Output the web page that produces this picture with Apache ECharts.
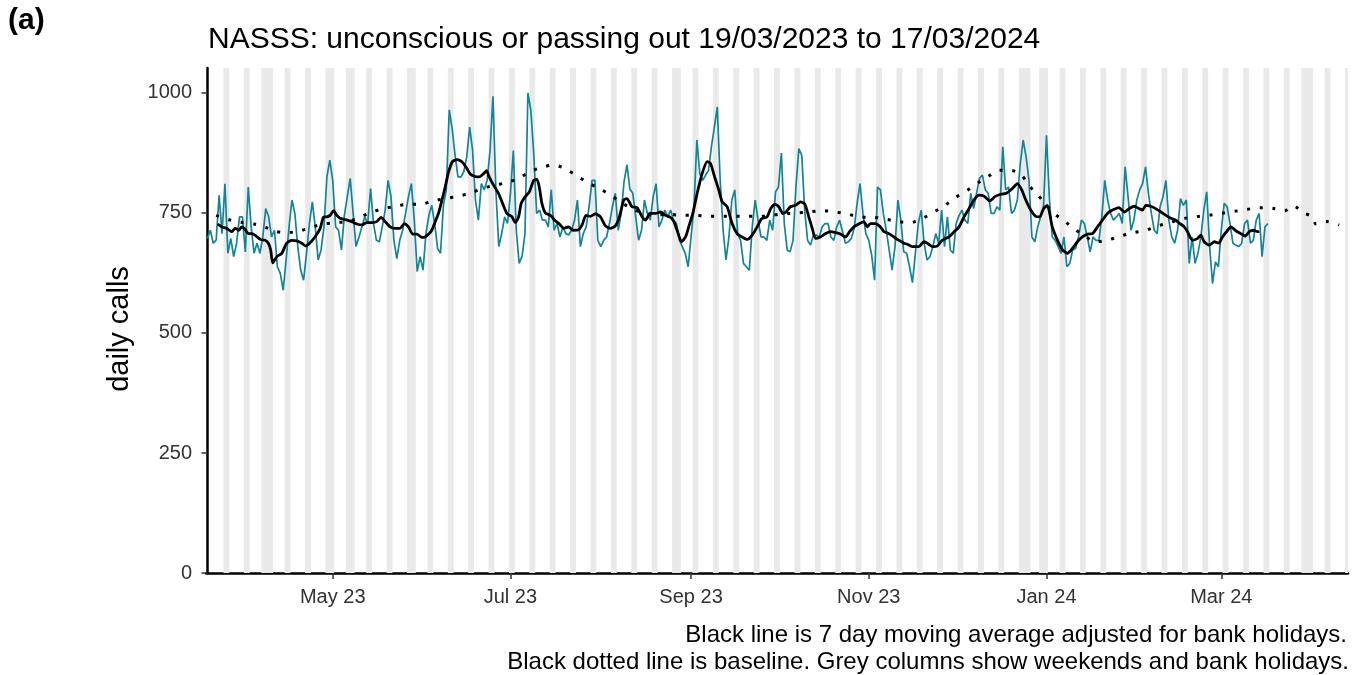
<!DOCTYPE html>
<html>
<head>
<meta charset="utf-8">
<script src="https://cdn.jsdelivr.net/npm/echarts@6/dist/echarts.min.js"></script>
<style>
  html, body { margin: 0; padding: 0; background: #fff; }
  #chart { width: 1365px; height: 675px; }
</style>
</head>
<body>
<div id="chart"></div>
<script>
// day 0 = 19/03/2023
const startDate = "2023-03-19";

// daily calls, 19/03/2023 .. 17/03/2024 (one value per day)
const dailyCalls = [
  697, 714, 687, 694, 787, 707, 811, 666, 697, 659, 687, 742, 742, 669, 804, 721, 666, 687, 666, 700,
  759, 742, 700, 714, 638, 624, 589, 652, 721, 777, 749, 680, 631, 610, 666, 728, 773, 721, 652, 673,
  721, 825, 860, 818, 721, 714, 673, 745, 784, 822, 749, 680, 700, 721, 742, 728, 801, 728, 693, 690,
  721, 756, 818, 784, 693, 655, 693, 714, 749, 784, 811, 735, 628, 659, 631, 707, 745, 766, 728, 676,
  666, 766, 798, 965, 925, 870, 825, 825, 836, 867, 929, 881, 777, 735, 811, 798, 818, 880, 993, 798,
  680, 707, 742, 728, 790, 880, 714, 645, 660, 707, 1000, 964, 874, 749, 756, 735, 735, 721, 798, 714,
  728, 700, 721, 707, 704, 714, 735, 777, 680, 707, 721, 763, 818, 818, 693, 680, 693, 700, 728, 763,
  791, 714, 749, 815, 850, 800, 791, 742, 693, 714, 777, 749, 735, 784, 811, 721, 735, 756, 742, 756,
  735, 728, 693, 680, 666, 638, 700, 763, 902, 832, 818, 829, 839, 888, 929, 971, 818, 714, 652, 700,
  777, 798, 707, 693, 645, 638, 631, 721, 777, 735, 700, 700, 693, 735, 714, 794, 804, 875, 728, 673,
  669, 693, 804, 884, 870, 756, 693, 683, 704, 704, 700, 721, 728, 728, 700, 693, 721, 735, 711, 687,
  690, 697, 718, 770, 811, 749, 707, 693, 662, 610, 804, 798, 749, 714, 673, 631, 680, 777, 735, 669,
  666, 638, 605, 666, 728, 756, 687, 652, 659, 680, 707, 687, 756, 680, 742, 673, 666, 728, 745, 756,
  735, 728, 791, 759, 791, 822, 829, 798, 791, 749, 749, 763, 756, 888, 798, 804, 749, 756, 777, 853,
  902, 867, 818, 700, 690, 721, 742, 765, 912, 780, 700, 693, 680, 666, 700, 638, 645, 673, 676, 700,
  735, 728, 700, 669, 700, 693, 693, 742, 818, 777, 749, 735, 742, 749, 728, 846, 784, 714, 735, 777,
  798, 811, 846, 791, 749, 714, 707, 763, 784, 818, 735, 700, 687, 714, 780, 766, 777, 645, 700, 645,
  666, 700, 756, 794, 680, 603, 648, 638, 714, 770, 763, 728, 687, 683, 680, 687, 728, 735, 687, 693,
  735, 749, 659, 721, 728
];

// 7 day moving average: day offset / value
const maDay = [
  3.5, 4.9, 6.6, 8.3, 9.5, 10.8, 11.8, 12.9, 14.0, 15.2, 16.3, 18.1, 19.8, 20.9, 21.7, 22.4, 23.8, 25.5, 27.2, 28.9,
  30.7, 32.4, 33.7, 35.2, 36.9, 38.7, 39.8, 41.0, 42.1, 43.3, 44.4, 45.5, 47.3, 49.5, 51.3, 53.0, 54.7, 56.4, 58.1, 59.6,
  61.0, 62.7, 64.4, 66.1, 67.6, 69.0, 70.4, 71.9, 73.6, 74.7, 76.1, 77.0, 78.2, 79.3, 80.5, 81.6, 82.8, 84.1, 85.6, 87.3,
  88.7, 90.2, 91.9, 93.3, 94.8, 95.8, 96.7, 98.2, 99.9, 101.3, 102.8, 104.5, 105.7, 106.8, 107.7, 109.1, 110.5, 112.0, 113.1, 113.9,
  114.8, 116.0, 117.7, 119.2, 120.8, 122.3, 124.0, 125.4, 127.4, 128.6, 129.9, 131.4, 133.1, 134.9, 136.6, 138.3, 140.0, 141.4, 142.9, 144.0,
  145.7, 147.5, 149.2, 150.3, 152.0, 153.8, 155.5, 157.2, 158.9, 160.1, 161.2, 162.7, 164.1, 165.2, 166.6, 168.1, 169.8, 171.5, 172.7, 174.1,
  175.5, 176.7, 178.4, 180.1, 181.8, 183.5, 185.3, 187.0, 188.7, 190.2, 192.1, 193.3, 194.8, 196.1, 197.5, 198.6, 200.1, 201.9, 203.6, 205.1,
  206.4, 207.6, 208.7, 210.4, 212.2, 213.9, 215.6, 217.3, 219.0, 220.4, 221.9, 223.6, 225.3, 226.5, 227.6, 229.3, 231.0, 232.2, 233.9, 235.6,
  237.4, 239.1, 240.2, 241.9, 244.2, 245.9, 247.1, 248.8, 250.5, 252.2, 254.5, 256.3, 258.0, 259.7, 261.4, 263.1, 264.8, 266.6, 268.5, 270.3,
  272.3, 274.2, 276.3, 278.0, 279.5, 280.9, 282.6, 284.3, 285.7, 287.0, 288.3, 290.0, 291.8, 293.5, 295.2, 296.9, 298.6, 300.3, 302.1, 303.8,
  305.5, 307.2, 308.9, 310.7, 312.9, 314.7, 316.4, 318.1, 319.8, 321.0, 322.1, 323.8, 325.5, 327.3, 329.0, 330.7, 332.4, 333.8, 335.3, 336.4,
  338.1, 339.9, 341.0, 342.1, 343.9, 345.6, 347.1, 348.4, 350.2, 351.3, 353.0, 354.7, 356.2, 357.6, 359.0, 360.5, 361.0
];
const maVal = [
  727, 721, 718, 711, 718, 714, 721, 716, 707, 707, 704, 695, 693, 687, 673, 646, 659, 666, 687, 693,
  692, 687, 681, 688, 700, 718, 741, 742, 745, 755, 745, 739, 736, 732, 727, 725, 730, 730, 732, 741,
  732, 721, 718, 718, 728, 721, 706, 706, 699, 700, 707, 714, 732, 749, 777, 804, 836, 857, 861, 857,
  846, 831, 826, 825, 832, 838, 825, 808, 791, 770, 749, 742, 730, 742, 770, 784, 794, 818, 820, 804,
  770, 750, 745, 735, 727, 718, 721, 714, 715, 725, 745, 743, 748, 742, 723, 718, 723, 742, 777, 780,
  763, 761, 742, 735, 749, 749, 752, 745, 741, 732, 714, 690, 700, 721, 749, 791, 832, 857, 853, 825,
  798, 773, 763, 728, 707, 700, 695, 704, 721, 738, 742, 759, 768, 763, 749, 752, 763, 766, 773, 768,
  742, 718, 697, 700, 707, 711, 709, 706, 700, 711, 721, 727, 732, 721, 728, 728, 721, 711, 707, 700,
  693, 687, 685, 680, 680, 690, 687, 680, 681, 693, 700, 711, 721, 742, 759, 777, 787, 785, 775, 784,
  789, 791, 801, 811, 798, 777, 756, 743, 742, 759, 766, 721, 693, 673, 666, 676, 690, 700, 706, 707,
  721, 735, 749, 756, 761, 752, 759, 764, 759, 756, 766, 764, 759, 752, 745, 739, 735, 728, 721, 711,
  693, 697, 704, 690, 683, 690, 687, 700, 714, 721, 713, 707, 702, 711, 714, 711, 712
];

// baseline (dotted): day offset / value
const baseDay = [
  3, 8, 12, 16, 20, 23, 27, 32, 36, 40, 44, 48.4, 52.7, 56.4, 60.4, 64.7, 68.8, 73.1, 77.3, 81.6,
  86, 90.2, 94.2, 98, 102.4, 106.8, 110.8, 114.8, 118.8, 123.1, 126.9, 130.6, 134.5, 138.4, 142, 146, 149.7, 153.8, 158.6, 162.9,
  167.3, 171.5, 175.8, 180.1, 184.7, 189.1, 193, 197.5, 201.9, 206.4, 211, 215.4, 219.7, 224.1, 228.4, 232.8, 237.1, 241.4, 245.6, 249.4,
  253.2, 256.8, 260.5, 264.3, 268, 271.7, 275.7, 279.5, 282, 284.5, 287.5, 290.6, 294, 297.5, 301, 304.9, 309.3, 313.5, 317.8, 322.1,
  326.2, 330.4, 334.7, 339.1, 343.6, 347.9, 352.1, 356.5, 360.8, 365.4, 369.6, 372.8, 375.9, 379.4, 380.5, 384.2, 388.5
];
const baseVal = [
  745, 735, 730, 727, 720, 712, 709, 713, 721, 727, 730, 732, 742, 752, 759, 764, 768, 768, 775, 780,
  785, 791, 801, 807, 813, 822, 836, 845, 850, 841, 827, 813, 801, 787, 772, 758, 750, 746, 747, 745,
  745, 743, 743, 743, 743, 743, 745, 748, 750, 752, 755, 752, 748, 741, 741, 737, 732, 730, 739, 752,
  766, 782, 796, 812, 826, 839, 839, 828, 807, 791, 770, 749, 734, 717, 703, 690, 694, 702, 709, 714,
  723, 730, 738, 742, 745, 749, 753, 757, 761, 760, 754, 765, 751, 742, 727, 732, 725
];

const bankHolidays = [
  "2023-04-07", "2023-04-10", "2023-05-01", "2023-05-08", "2023-05-29", "2023-08-28",
  "2023-12-25", "2023-12-26", "2024-01-01", "2024-03-29", "2024-04-01"
];
const tickDates = ["2023-05-01", "2023-07-01", "2023-09-01", "2023-11-01", "2024-01-01", "2024-03-01"];
const tickLabels = ["May 23", "Jul 23", "Sep 23", "Nov 23", "Jan 24", "Mar 24"];
const yTicks = [0, 250, 500, 750, 1000];

const DAY = 86400000;
const t0 = Date.parse(startDate + "T00:00:00Z");
function dayOf(s) { return Math.round((Date.parse(s + "T00:00:00Z") - t0) / DAY); }

const lastDay = 391;  // axis runs to 13/04/2024
const holidayDays = bankHolidays.map(dayOf);
const tickDays = tickDates.map(dayOf);

// grey columns: runs of weekend / bank holiday days
let shaded = [];
for (let d = 1; d <= lastDay; d++) {
  const wd = new Date(t0 + d * DAY).getUTCDay();
  if (wd === 0 || wd === 6 || holidayDays.indexOf(d) >= 0) shaded.push(d);
}
let runs = [];
shaded.forEach(function (d) {
  const r = runs[runs.length - 1];
  if (r && r[1] === d - 0.5) r[1] = d + 0.5;
  else runs.push([d - 0.5, d + 0.5]);
});

const yMax = 1052;
const font = "'Liberation Sans', Arial, sans-serif";

let myChart = echarts.init(document.getElementById("chart"));
let option = {
  animation: false,
  backgroundColor: "#ffffff",
  textStyle: { fontFamily: font },
  grid: { left: 206, right: 17, top: 68, bottom: 102, containLabel: false },
  graphic: [
    { type: "text", left: 8, top: 6, style: { text: "(a)", fontSize: 30, fontWeight: "bold", fill: "#000", fontFamily: font } },
    { type: "text", left: 208, top: 25, style: { text: "NASSS: unconscious or passing out 19/03/2023 to 17/03/2024", fontSize: 30, fill: "#000", fontFamily: font } },
    { type: "text", x: 120, y: 329, rotation: Math.PI / 2,
      style: { text: "daily calls", fontSize: 29, fill: "#000", fontFamily: font, align: "center", verticalAlign: "middle" } },
    { type: "text", right: 18, top: 623, style: { text: "Black line is 7 day moving average adjusted for bank holidays.", fontSize: 24, fill: "#000", fontFamily: font, align: "right" } },
    { type: "text", right: 16, top: 650, style: { text: "Black dotted line is baseline. Grey columns show weekends and bank holidays.", fontSize: 24, fill: "#000", fontFamily: font, align: "right" } }
  ],
  xAxis: {
    type: "value",
    min: -0.5,
    max: lastDay + 0.5,
    splitLine: { show: false },
    axisLine: { show: true, lineStyle: { color: "#000", width: 2.5 } },
    axisTick: { show: true, length: 6, customValues: tickDays, lineStyle: { color: "#333", width: 1.5 } },
    axisLabel: {
      customValues: tickDays, margin: 14, fontSize: 20, color: "#333", fontFamily: font,
      formatter: function (v) { const i = tickDays.indexOf(v); return i >= 0 ? tickLabels[i] : ""; }
    }
  },
  yAxis: {
    type: "value",
    min: 0,
    max: yMax,
    splitLine: { show: false },
    axisLine: { show: true, lineStyle: { color: "#000", width: 2.5 } },
    axisTick: { show: true, length: 6, customValues: yTicks, lineStyle: { color: "#333", width: 1.5 } },
    axisLabel: {
      customValues: yTicks, margin: 14, fontSize: 20, color: "#333", fontFamily: font,
      formatter: function (v) { return String(v); }
    }
  },
  series: [
    {
      name: "weekends",
      type: "custom",
      silent: true,
      clip: true,
      data: runs,
      renderItem: function (params, api) {
        const p0 = api.coord([api.value(0), 0]);
        const p1 = api.coord([api.value(1), yMax]);
        return {
          type: "rect",
          shape: { x: p0[0], y: p1[1], width: p1[0] - p0[0], height: p0[1] - p1[1] },
          style: { fill: "#e9e9e9" }
        };
      },
      z: 1
    },
    {
      name: "daily calls",
      type: "line",
      data: dailyCalls.map(function (v, i) { return [i, v]; }),
      symbol: "none",
      lineStyle: { color: "#138497", width: 1.7 },
      z: 2
    },
    {
      name: "moving average",
      type: "line",
      data: maDay.map(function (d, i) { return [d, maVal[i]]; }),
      symbol: "none",
      smooth: 0.2,
      lineStyle: { color: "#000", width: 2.8 },
      z: 3
    },
    {
      name: "baseline",
      type: "line",
      data: baseDay.map(function (d, i) { return [d, baseVal[i]]; }),
      symbol: "none",
      smooth: 0.3,
      lineStyle: { color: "#000", width: 3, type: [3, 9.7] },
      z: 4
    }
  ]
};

myChart.setOption(option);
</script>
</body>
</html>
